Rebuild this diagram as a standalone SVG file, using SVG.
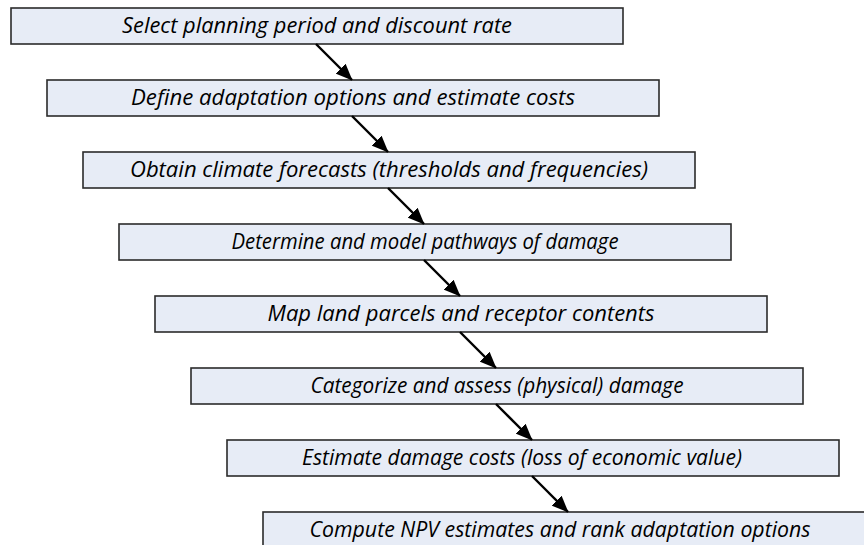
<svg xmlns="http://www.w3.org/2000/svg" width="864" height="545" viewBox="0 0 864 545">
  <style>
    .box { fill: #E7ECF6; stroke: #2b2b2b; stroke-width: 1.6; }
    .lbl { font-family: "Open Sans", "Liberation Sans", sans-serif; font-style: italic; font-size: 22px; fill: #000; text-anchor: middle; }
    .arrow { stroke: #000; stroke-width: 2.4; fill: none; marker-end: url(#head); }
  </style>
  <defs>
    <marker id="head" viewBox="0 0 12 10" refX="11.5" refY="5" markerWidth="7" markerHeight="6" markerUnits="strokeWidth" orient="auto">
      <path d="M0,0 L12,5 L0,10 Z" fill="#000"/>
    </marker>
  </defs>
  <rect width="864" height="545" fill="#fff"/>

  <g id="step1">
    <rect class="box" x="11" y="8" width="612" height="36"/>
    <text class="lbl" x="317" y="33" textLength="390" lengthAdjust="spacingAndGlyphs">Select planning period and discount rate</text>
  </g>
  <g id="step2">
    <rect class="box" x="47" y="80" width="612" height="36"/>
    <text class="lbl" x="353" y="105" textLength="444" lengthAdjust="spacingAndGlyphs">Define adaptation options and estimate costs</text>
  </g>
  <g id="step3">
    <rect class="box" x="83" y="152" width="612" height="36"/>
    <text class="lbl" x="389" y="177" textLength="518" lengthAdjust="spacingAndGlyphs">Obtain climate forecasts (thresholds and frequencies)</text>
  </g>
  <g id="step4">
    <rect class="box" x="119" y="224" width="612" height="36"/>
    <text class="lbl" x="425" y="249" textLength="387" lengthAdjust="spacingAndGlyphs">Determine and model pathways of damage</text>
  </g>
  <g id="step5">
    <rect class="box" x="155" y="296" width="612" height="36"/>
    <text class="lbl" x="461" y="321" textLength="387" lengthAdjust="spacingAndGlyphs">Map land parcels and receptor contents</text>
  </g>
  <g id="step6">
    <rect class="box" x="191" y="368" width="612" height="36"/>
    <text class="lbl" x="497" y="393" textLength="373" lengthAdjust="spacingAndGlyphs">Categorize and assess (physical) damage</text>
  </g>
  <g id="step7">
    <rect class="box" x="227" y="440" width="612" height="36"/>
    <text class="lbl" x="522" y="465" textLength="440" lengthAdjust="spacingAndGlyphs">Estimate damage costs (loss of economic value)</text>
  </g>
  <g id="step8">
    <rect class="box" x="263" y="512" width="612" height="36"/>
    <text class="lbl" x="560" y="537" textLength="501" lengthAdjust="spacingAndGlyphs">Compute NPV estimates and rank adaptation options</text>
  </g>

  <g id="connectors">
    <line class="arrow" x1="316" y1="44" x2="352" y2="80"/>
    <line class="arrow" x1="352" y1="116" x2="388" y2="152"/>
    <line class="arrow" x1="388" y1="188" x2="424" y2="224"/>
    <line class="arrow" x1="424" y1="260" x2="460" y2="296"/>
    <line class="arrow" x1="460" y1="332" x2="496" y2="368"/>
    <line class="arrow" x1="496" y1="404" x2="532" y2="440"/>
    <line class="arrow" x1="532" y1="476" x2="568" y2="512"/>
  </g>
</svg>
